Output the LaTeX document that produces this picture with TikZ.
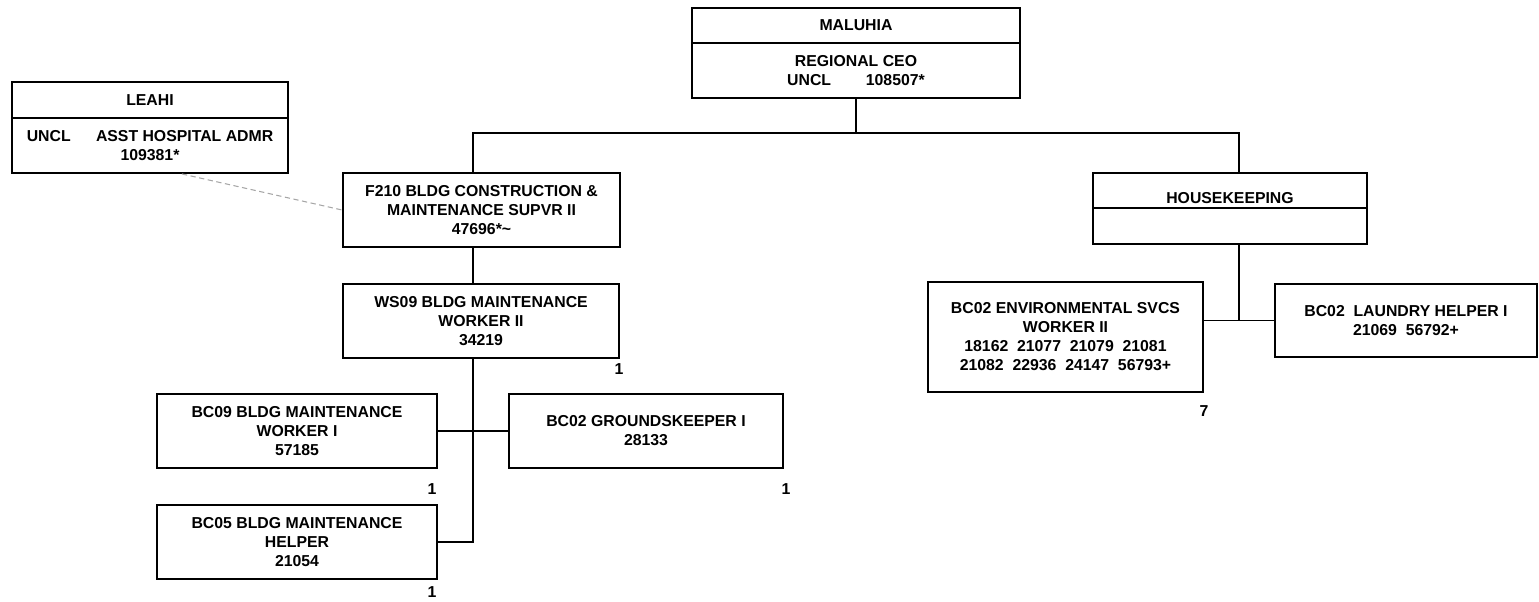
\documentclass[tikz,border=0pt]{standalone}
\usepackage{fontspec}
\setmainfont{Liberation Sans}
\usetikzlibrary{positioning, calc}

\tikzset{
  post/.style={draw, line width=1.1pt, rectangle, align=center, inner sep=2pt,
    font=\fontsize{9}{10.8}\selectfont\bfseries},
  link/.style={line width=0.8pt},
  tie/.style={gray!70, densely dashed, line width=0.6pt},
  count/.style={inner sep=0pt, font=\fontsize{9}{10.8}\selectfont\bfseries}
}

\begin{document}
\begin{tikzpicture}[x=0.02cm, y=-0.02cm]
    \useasboundingbox (0,0) rectangle (1539,602);

    % Top of the chart
    \node (maluhia) at (856, 25.5) [post, minimum width=6.56cm, minimum height=0.70cm] {MALUHIA};
    \node (ceo) at (856, 70.5) [post, minimum width=6.56cm, minimum height=1.10cm] {REGIONAL CEO \\ UNCL\hspace{2.2em}108507*};

    % Leahi box
    \node (leahi) at (150, 100) [post, minimum width=5.52cm, minimum height=0.72cm] {LEAHI};
    \node (admr) at (150, 145.5) [post, minimum width=5.52cm, minimum height=1.10cm] {UNCL\hspace{1.6em}ASST HOSPITAL ADMR \\ 109381*};

    % Maintenance side
    \node (f210) at (481.5, 210) [post, minimum width=5.54cm, minimum height=1.48cm] {F210 BLDG CONSTRUCTION \& \\ MAINTENANCE SUPVR II \\ 47696*\textasciitilde};
    \node (ws09) at (481, 321) [post, minimum width=5.52cm, minimum height=1.48cm] {WS09 BLDG MAINTENANCE \\ WORKER II \\ 34219};
    \node (bc09) at (297, 431) [post, minimum width=5.60cm, minimum height=1.48cm] {BC09 BLDG MAINTENANCE \\ WORKER I \\ 57185};
    \node (grounds) at (646, 431) [post, minimum width=5.48cm, minimum height=1.48cm] {BC02 GROUNDSKEEPER I \\ 28133};
    \node (bc05) at (297, 542) [post, minimum width=5.60cm, minimum height=1.48cm] {BC05 BLDG MAINTENANCE \\ HELPER \\ 21054};

    % Housekeeping side
    \node (hk) at (1230, 190.5) [post, minimum width=5.48cm, minimum height=0.70cm, text height=15pt, text depth=0pt] {HOUSEKEEPING};
    \node (hkbody) at (1230, 226) [post, minimum width=5.48cm, minimum height=0.72cm] {};
    \node (env) at (1065.5, 337) [post, minimum width=5.50cm, minimum height=2.20cm] {BC02 ENVIRONMENTAL SVCS \\ WORKER II \\ 18162\ \ 21077\ \ 21079\ \ 21081 \\ 21082\ \ 22936\ \ 24147\ \ 56793+};
    \node (laundry) at (1406, 320.5) [post, minimum width=5.24cm, minimum height=1.46cm] {BC02\ \ LAUNDRY HELPER I \\ 21069\ \ 56792+};

    % Position counts
    \node (nws09) at ($(ws09.south east)+(-1,10)$) [count] {1};
    \node (nbc09) at ($(bc09.south east)+(-6,20)$) [count] {1};
    \node (nbc05) at ($(bc05.south east)+(-6,12)$) [count] {1};
    \node (ngrounds) at ($(grounds.south east)+(2,20)$) [count] {1};
    \node (nenv) at ($(env.south east)+(0,18)$) [count] {7};

    % Lines
    \coordinate (busL) at (473, 133);
    \coordinate (busR) at (1239, 133);
    \draw[link] (ceo.south) -- (ceo.south |- busL);
    \draw[link] (f210.north -| busL) -- (busL) -- (busR) -- (hk.north -| busR);
    \draw[link] (f210.south -| busL) -- (ws09.north -| busL);
    \draw[link] (ws09.south -| busL) |- (bc05.east);
    \draw[link] (bc09.east) -- (grounds.west);
    \draw[link] (hkbody.south -| busR) -- (laundry.west -| busR);
    \draw[link] (env.east |- laundry.west) -- (laundry.west);
    \draw[tie] ($(admr.south)+(32,0)$) -- (f210.west);
\end{tikzpicture}
\end{document}
